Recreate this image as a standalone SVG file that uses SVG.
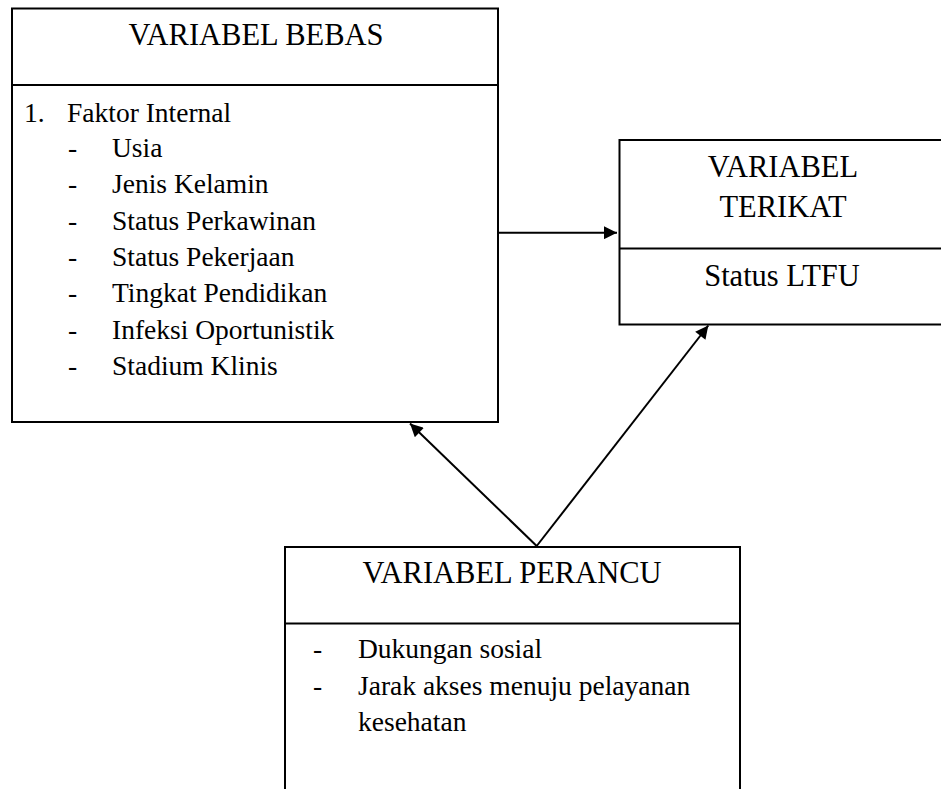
<svg xmlns="http://www.w3.org/2000/svg" width="941" height="789" viewBox="0 0 941 789">
<style>
.box{fill:#fff;stroke:#000;stroke-width:2}
.div{stroke:#000;stroke-width:2}
.t{font-family:'Liberation Serif','Times New Roman',Times,serif;font-size:27.5px;fill:#000}
.h{font-family:'Liberation Serif','Times New Roman',Times,serif;font-size:30.5px;fill:#000;text-anchor:middle}
.c{stroke:#000;stroke-width:2;fill:none}
</style>
<defs>
<marker id="ah" viewBox="0 0 10 10" refX="10" refY="5" markerWidth="7.5" markerHeight="6.5" markerUnits="strokeWidth" orient="auto">
<path d="M0,0 L10,5 L0,10 z" fill="#000"/>
</marker>
</defs>
<rect width="941" height="789" fill="#fff"/>
<g id="bebas">
<rect class="box" x="12" y="8.5" width="486" height="413.5"/>
<line class="div" x1="12" y1="85" x2="498" y2="85"/>
<text class="h" x="256" y="45">VARIABEL BEBAS</text>
<text class="t" x="24" y="121.5">1.</text>
<text class="t" x="67" y="121.5">Faktor Internal</text>
<g class="t">
<text x="68" y="157">-</text><text x="112" y="157">Usia</text>
<text x="68" y="193.3">-</text><text x="112" y="193.3">Jenis Kelamin</text>
<text x="68" y="229.6">-</text><text x="112" y="229.6">Status Perkawinan</text>
<text x="68" y="265.9">-</text><text x="112" y="265.9">Status Pekerjaan</text>
<text x="68" y="302.2">-</text><text x="112" y="302.2">Tingkat Pendidikan</text>
<text x="68" y="338.5">-</text><text x="112" y="338.5">Infeksi Oportunistik</text>
<text x="68" y="374.8">-</text><text x="112" y="374.8">Stadium Klinis</text>
</g>
</g>
<g id="terikat">
<rect class="box" x="619.5" y="140" width="340" height="184.5"/>
<line class="div" x1="619.5" y1="248.5" x2="960" y2="248.5"/>
<text class="h" x="783" y="176.7">VARIABEL</text>
<text class="h" x="783" y="217.3">TERIKAT</text>
<text class="h" x="782" y="286">Status LTFU</text>
</g>
<g id="perancu">
<rect class="box" x="285" y="547" width="455" height="260"/>
<line class="div" x1="285" y1="623.5" x2="740" y2="623.5"/>
<text class="h" x="512" y="583.3">VARIABEL PERANCU</text>
<g class="t">
<text x="313" y="658.3">-</text><text x="358" y="658.3">Dukungan sosial</text>
<text x="313" y="694.6">-</text><text x="358" y="694.6">Jarak akses menuju pelayanan</text>
<text x="358" y="730.9">kesehatan</text>
</g>
</g>
<g id="connectors">
<line class="c" x1="498" y1="232.7" x2="617" y2="232.7" marker-end="url(#ah)"/>
<line class="c" x1="536.7" y1="546" x2="410" y2="423.5" marker-end="url(#ah)"/>
<line class="c" x1="536.7" y1="546" x2="708.3" y2="325.5" marker-end="url(#ah)"/>
</g>
</svg>
